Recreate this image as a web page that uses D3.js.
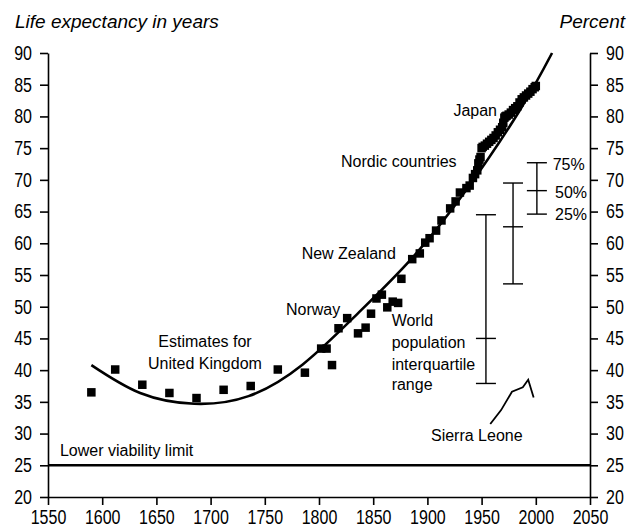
<!DOCTYPE html>
<html>
<head>
<meta charset="utf-8">
<script src="https://cdn.jsdelivr.net/npm/d3@7"></script>
<style>
  body { margin: 0; background: #fff; }
  svg { display: block; }
  .tick text { font-family: "Liberation Sans", Arial, sans-serif; font-size: 20px; fill: #000; }
  .ann { font-family: "Liberation Sans", Arial, sans-serif; font-size: 16px; fill: #000; }
  .title { font-family: "Liberation Sans", Arial, sans-serif; font-size: 19px; font-style: italic; fill: #000; }
</style>
</head>
<body>
<div id="chart-area"></div>
<script>
// tick labels
const xTicks = [1550, 1600, 1650, 1700, 1750, 1800, 1850, 1900, 1950, 2000, 2050];
const yTicks = [20, 25, 30, 35, 40, 45, 50, 55, 60, 65, 70, 75, 80, 85, 90];

// estimates for United Kingdom
const ukYears = [1590, 1612, 1637, 1662, 1687, 1712, 1737, 1762, 1787];
const ukLE = [36.5, 40.1, 37.7, 36.4, 35.6, 36.9, 37.5, 40.1, 39.6];

// record life expectancy (Norway, New Zealand, Nordic countries, Japan)
const recYears = [1802, 1807, 1812, 1818, 1826, 1836, 1843, 1848, 1853, 1858, 1863, 1868, 1873, 1876,
  1886, 1893, 1898, 1902, 1908, 1913, 1921, 1926, 1930, 1936, 1939, 1942, 1944, 1946, 1947, 1948, 1949,
  1950, 1951, 1953, 1955, 1957, 1959, 1961, 1963, 1965, 1967, 1969, 1970, 1971, 1972, 1973, 1975, 1977,
  1979, 1981, 1983, 1985, 1987, 1989, 1991, 1993, 1995, 1997, 1999, 2000];
const recLE = [43.4, 43.4, 40.8, 46.6, 48.2, 45.8, 46.7, 48.9, 51.3, 51.9, 49.9, 50.8, 50.6, 54.4,
  57.5, 58.4, 60.1, 60.8, 62.0, 63.6, 65.5, 66.6, 68.0, 68.7, 69.1, 70.3, 70.9, 71.5, 72.6, 73.2, 73.6,
  75.0, 75.2, 75.4, 75.7, 76.0, 76.3, 76.6, 77.0, 77.5, 77.9, 78.3, 79.0, 79.8, 80.0, 80.1, 80.3, 80.6,
  81.0, 81.3, 81.6, 82.2, 82.7, 83.0, 83.3, 83.6, 83.9, 84.3, 84.6, 84.8];

// fitted trend
const fitYears = [1590, 1635, 1685, 1735, 1785, 1835, 1885, 1935, 1985, 2015];
const fitLE = [40.8, 36.4, 34.7, 35.9, 40.9, 48.8, 57.5, 68.2, 80.9, 90];

// world population interquartile range
const iqrYears = [1954, 1979, 2001];
const iqrQ1 = [37.9, 53.6, 64.6];
const iqrMed = [45.0, 62.6, 68.3];
const iqrQ3 = [64.5, 69.5, 72.7];

// Sierra Leone
const slYears = [1958, 1968, 1978, 1988, 1993, 1998];
const slLE = [31.5, 33.7, 36.6, 37.3, 38.5, 35.7];

const viability = 25;

// text labels: [text, year, value, anchor]
const labels = [
  ["Estimates for", 1694.8, 43.7, "middle"],
  ["United Kingdom", 1694.8, 40.2, "middle"],
  ["Lower viability limit", 1561, 26.5, "start"],
  ["Norway", 1769.6, 48.7, "start"],
  ["New Zealand", 1784, 57.6, "start"],
  ["World", 1867, 46.9, "start"],
  ["population", 1867, 43.5, "start"],
  ["interquartile", 1867, 40.0, "start"],
  ["range", 1867, 36.9, "start"],
  ["Sierra Leone", 1903.3, 28.9, "start"],
  ["Nordic countries", 1820.3, 72.1, "start"],
  ["Japan", 1924, 80.1, "start"],
  ["75%", 2015.6, 71.6, "start"],
  ["50%", 2017.7, 67.2, "start"],
  ["25%", 2017.7, 63.7, "start"]
];

const W = 640, H = 529;
const margin = { left: 48, right: 50, top: 53, bottom: 32 };
const x0 = margin.left, x1 = W - margin.right, y0 = H - margin.bottom, y1 = margin.top;
const squeeze = 0.8; // condensed look for tick labels

const svg = d3.select("#chart-area").append("svg").attr("width", W).attr("height", H);

const x = d3.scaleLinear().domain([1550, 2050]).range([x0, x1]);
const y = d3.scaleLinear().domain([20, 90]).range([y0, y1]);

//axes
const xAxis = d3.axisBottom(x).tickValues(xTicks).tickFormat(d3.format("d")).tickSize(8).tickSizeOuter(0).tickPadding(5);
svg.append("g").attr("transform", "translate(0," + y0 + ")").call(xAxis);

const yAxisL = d3.axisLeft(y).tickValues(yTicks).tickSize(8).tickSizeOuter(0).tickPadding(12);
svg.append("g").attr("transform", "translate(" + x0 + ",0)").call(yAxisL);

const yAxisR = d3.axisRight(y).tickValues(yTicks).tickSize(8).tickSizeOuter(0).tickPadding(12);
svg.append("g").attr("transform", "translate(" + x1 + ",0)").call(yAxisR);

svg.selectAll(".domain, .tick line").attr("stroke", "#000").attr("stroke-width", 1.6);
svg.selectAll(".tick text").attr("fill", "#000").attr("transform", "scale(" + squeeze + ",1)");
svg.selectAll("g").attr("font-family", null).attr("font-size", null);

// titles
svg.append("text").attr("class", "title").attr("x", 15).attr("y", 28).text("Life expectancy in years");
svg.append("text").attr("class", "title").attr("x", 625).attr("y", 28).attr("text-anchor", "end").text("Percent");

// lower viability limit
svg.append("line")
  .attr("x1", x(1550)).attr("x2", x(2050))
  .attr("y1", y(viability)).attr("y2", y(viability))
  .attr("stroke", "#000").attr("stroke-width", 2.5);

// fitted curve
const fit = fitYears.map((d, i) => [d, fitLE[i]]);
svg.append("path")
  .datum(fit)
  .attr("fill", "none").attr("stroke", "#000").attr("stroke-width", 2.6)
  .attr("d", d3.line().x(d => x(d[0])).y(d => y(d[1])).curve(d3.curveNatural));

// squares
const sq = 8.5;
const pts = ukYears.map((d, i) => [d, ukLE[i]]).concat(recYears.map((d, i) => [d, recLE[i]]));
svg.selectAll("rect.pt")
  .data(pts)
  .enter()
  .append("rect")
  .attr("class", "pt")
  .attr("x", d => x(d[0]) - sq / 2)
  .attr("y", d => y(d[1]) - sq / 2)
  .attr("width", sq).attr("height", sq)
  .attr("fill", "#000");

// interquartile bars
const cap = 10;
const bars = svg.selectAll("g.iqr").data(iqrYears.map((d, i) => ({ yr: d, q1: iqrQ1[i], md: iqrMed[i], q3: iqrQ3[i] })))
  .enter().append("g").attr("class", "iqr").attr("stroke", "#000").attr("stroke-width", 1.4);
bars.append("line").attr("x1", d => x(d.yr)).attr("x2", d => x(d.yr)).attr("y1", d => y(d.q1)).attr("y2", d => y(d.q3));
["q1", "md", "q3"].forEach(k => {
  bars.append("line")
    .attr("x1", d => x(d.yr) - cap).attr("x2", d => x(d.yr) + cap)
    .attr("y1", d => y(d[k])).attr("y2", d => y(d[k]));
});

// Sierra Leone
const sl = slYears.map((d, i) => [d, slLE[i]]);
svg.append("path")
  .datum(sl)
  .attr("fill", "none").attr("stroke", "#000").attr("stroke-width", 1.8)
  .attr("d", d3.line().x(d => x(d[0])).y(d => y(d[1])));

// annotations
svg.selectAll("text.ann")
  .data(labels)
  .enter()
  .append("text")
  .attr("class", "ann")
  .attr("x", d => x(d[1]))
  .attr("y", d => y(d[2]))
  .attr("text-anchor", d => d[3])
  .text(d => d[0]);
</script>
</body>
</html>
